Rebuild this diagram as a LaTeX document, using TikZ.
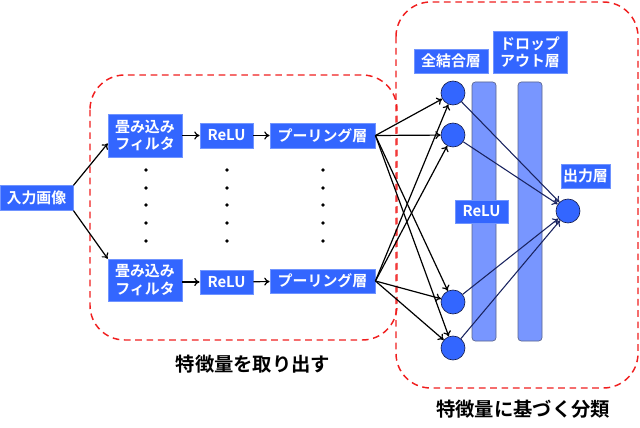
\documentclass[tikz,border=0pt]{standalone}
\usepackage{fontspec}
\setmainfont{Noto Sans CJK JP}[BoldFont={Noto Sans CJK JP Bold}]
\usetikzlibrary{arrows.meta,calc}
\definecolor{boxblue}{RGB}{51,102,255}
\definecolor{barblue}{RGB}{120,150,255}
\definecolor{barline}{RGB}{90,100,140}
\definecolor{navy}{RGB}{25,35,95}
\definecolor{dred}{RGB}{240,30,30}
\tikzset{
  bluebox/.style={fill=boxblue, draw=boxblue!70!white, line width=0.4pt, text=white, font=\fontsize{11.2pt}{13pt}\selectfont\bfseries, inner sep=0pt, align=center},
  neuron/.style={circle, fill=boxblue, draw=navy!80!black, line width=0.5pt, minimum size=18pt, inner sep=0pt},
  bar/.style={fill=barblue, draw=barline, line width=0.5pt, rounded corners=2.5pt},
  conn/.style={draw=black, line width=0.9pt, -{To[length=4pt,width=6pt]}},
  outconn/.style={draw=navy, line width=0.8pt, -{To[length=4pt,width=6pt]}},
  region/.style={draw=dred, line width=1.1pt, dash pattern=on 5pt off 3.5pt, rounded corners=26pt},
  caption/.style={font=\fontsize{14.5pt}{16pt}\selectfont\bfseries, text=black},
  dotmark/.style={circle, fill=black, inner sep=0pt, minimum size=2.8pt}
}
\begin{document}
\begin{tikzpicture}[x=0.75pt,y=-0.75pt]
\useasboundingbox (0,0) rectangle (640,428);
% regions
\draw[region] (90,75) rectangle (397,340);
\draw[region] (396,2) rectangle (638,388);
\node[caption] (lab1) at (253,364) {特徴量を取り出す};
\node[caption] (lab2) at (523,409) {特徴量に基づく分類};
% left boxes
\node[bluebox, minimum width=55pt, minimum height=18.5pt] (in) at (36.5,198) {入力画像};
\node[bluebox, minimum width=55.5pt, minimum height=32pt] (c1) at (145,135.5) {畳み込み\\フィルタ};
\node[bluebox, minimum width=55.5pt, minimum height=31.5pt] (c2) at (145,280) {畳み込み\\フィルタ};
\node[bluebox, minimum width=40pt, minimum height=18.5pt] (r1) at (226.5,135.5) {ReLU};
\node[bluebox, minimum width=40pt, minimum height=18pt] (r2) at (226.5,282) {ReLU};
\node[bluebox, minimum width=79pt, minimum height=18.5pt] (p1) at (322.5,135.5) {プーリング層};
\node[bluebox, minimum width=79pt, minimum height=18pt] (p2) at (322.5,281) {プーリング層};
% dots
\foreach \x in {146,227,323}{
  \foreach \y in {170,188,205,223,241}{
    \node[dotmark] at (\x,\y) {};
  }
}
% left connectors
\coordinate (c1in) at ($(c1.west)+(0,8)$);
\draw[conn] (in.north east) -- (c1in);
\draw[conn] (in.south east) -- (c2.north west);
\draw[conn] (c1.east |- r1) -- (r1);
\draw[conn] (r1) -- (p1);
\draw[conn] (c2.east |- r2) -- (r2);
\draw[conn] (r2) -- (p2);
% bars
\draw[bar] (472,82) rectangle (496,341);
\draw[bar] (518,82) rectangle (542,341);
% neurons
\node[neuron] (f1) at (453,93) {};
\node[neuron] (f2) at (453,135) {};
\node[neuron] (f3) at (453,302) {};
\node[neuron] (f4) at (453,348) {};
\node[neuron] (out) at (568,211) {};
% labels right
\node[bluebox, minimum width=40pt, minimum height=17.5pt] (relulab) at (481.5,211.5) {ReLU};
\node[bluebox, minimum width=55.5pt, minimum height=18pt] (fclab) at (451,61) {全結合層};
\node[bluebox, minimum width=55.5pt, minimum height=31.5pt] (dolab) at (530,52) {ドロップ\\アウト層};
\node[bluebox, minimum width=37pt, minimum height=18pt] (outlab) at (585.5,176) {出力層};
% pooling to fc
\foreach \p in {p1,p2}{
  \foreach \f in {f1,f2,f3,f4}{
    \draw[conn] (\p.east) -- (\f);
  }
}
% fc to output
\foreach \f in {f1,f2,f3,f4}{
  \draw[outconn] (\f) -- (out);
}
\end{tikzpicture}
\end{document}
